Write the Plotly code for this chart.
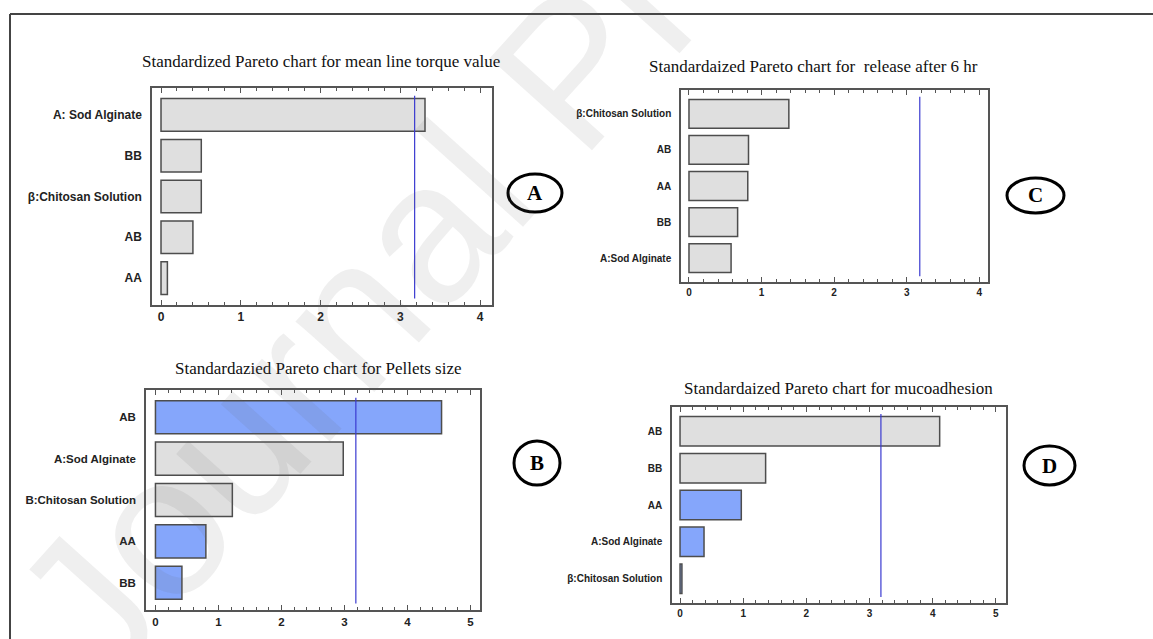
import plotly.graph_objects as go

W, H = 1153, 639

# ---- data -------------------------------------------------------------
# Panel A: mean line torque value
a_terms = ["A: Sod Alginate", "BB", "β:Chitosan Solution", "AB", "AA"]
a_effects = [3.31, 0.505, 0.505, 0.40, 0.08]
a_sign = ["+", "+", "+", "+", "+"]

# Panel B: pellets size
b_terms = ["AB", "A:Sod Alginate", "B:Chitosan Solution", "AA", "BB"]
b_effects = [4.54, 2.98, 1.22, 0.80, 0.42]
b_sign = ["-", "+", "+", "-", "-"]

# Panel C: release after 6 hr
c_terms = ["β:Chitosan Solution", "AB", "AA", "BB", "A:Sod Alginate"]
c_effects = [1.376, 0.82, 0.81, 0.67, 0.58]
c_sign = ["+", "+", "+", "+", "+"]

# Panel D: mucoadhesion
d_terms = ["AB", "BB", "AA", "A:Sod Alginate", "β:Chitosan Solution"]
d_effects = [4.11, 1.355, 0.97, 0.38, 0.03]
d_sign = ["+", "+", "-", "-", "-"]

# critical t value (95 %, 3 df)
t_crit = 3.18

titles = {
    "A": "Standardized Pareto chart for mean line torque value",
    "B": "Standardazied Pareto chart for Pellets size",
    "C": "Standardaized Pareto chart for\u00a0 release after 6 hr",
    "D": "Standardaized Pareto chart for mucoadhesion",
}

# ---- styling ----------------------------------------------------------
GRAY = "#dfdfdf"
BLUE = "#85a6fb"
EDGE = "#4d4d4d"
FRAME = "#555555"
SANS = "Liberation Sans, Arial, sans-serif"
SERIF = "Liberation Serif, Times New Roman, serif"

# pixel boxes of each plot frame: x0, x1, y0(top), y1(bottom), x-range
panels = {
    "A": dict(box=(152, 492, 88, 305), xr=(-0.113, 4.15), tick_max=4, fs=12,
              terms=a_terms, vals=a_effects, sign=a_sign,
              title_xy=(321, 62), badge=(508, 562, 174, 212)),
    "C": dict(box=(681, 988, 90, 282), xr=(-0.11, 4.12), tick_max=4, fs=10,
              terms=c_terms, vals=c_effects, sign=c_sign,
              title_xy=(813, 66), badge=(1007, 1064, 178, 213)),
    "B": dict(box=(146, 480, 390, 610), xr=(-0.15, 5.15), tick_max=5, fs=11.5,
              terms=b_terms, vals=b_effects, sign=b_sign,
              title_xy=(318, 368), badge=(514, 560, 441, 485)),
    "D": dict(box=(672, 1006, 407, 603), xr=(-0.127, 5.16), tick_max=5, fs=10,
              terms=d_terms, vals=d_effects, sign=d_sign,
              title_xy=(838, 388), badge=(1024, 1075, 446, 485)),
}

fig = go.Figure()
layout = {}
annotations = []
shapes = []

for i, (key, p) in enumerate(panels.items(), start=1):
    xa = "x" if i == 1 else f"x{i}"
    ya = "y" if i == 1 else f"y{i}"
    x0, x1, y0, y1 = p["box"]
    colors = [GRAY if s == "+" else BLUE for s in p["sign"]]
    fig.add_trace(go.Bar(
        x=p["vals"], y=p["terms"], orientation="h", width=0.8,
        marker=dict(color=colors, line=dict(color=EDGE, width=1.5)),
        xaxis=xa, yaxis=ya, showlegend=False, hoverinfo="x+y",
    ))
    font = dict(family=SANS, size=p["fs"], color="#222222", weight="bold")
    layout[f"xaxis{'' if i == 1 else i}"] = dict(
        domain=[x0 / W, x1 / W], anchor=ya, range=list(p["xr"]),
        tickvals=list(range(p["tick_max"] + 1)),
        ticks="inside", ticklen=5, tickwidth=1, tickcolor=FRAME,
        minor=dict(dtick=0.2, ticks="inside", ticklen=3, tickcolor=FRAME),
        showline=True, linecolor=FRAME, linewidth=1.5, mirror="allticks",
        showgrid=False, zeroline=False, tickfont=font,
    )
    layout[f"yaxis{'' if i == 1 else i}"] = dict(
        domain=[1 - y1 / H, 1 - y0 / H], anchor=xa,
        type="category", categoryorder="array", categoryarray=p["terms"],
        range=[4.66, -0.66], ticks="", ticklabelstandoff=6,
        showline=True, linecolor=FRAME, linewidth=1.5, mirror=True,
        showgrid=False, zeroline=False, tickfont=font,
    )
    # significance line
    shapes.append(dict(type="line", xref=xa, yref=ya, x0=t_crit, x1=t_crit,
                       y0=-0.47, y1=4.5, line=dict(color="#3a3ad0", width=1.2)))
    # chart title
    tx, ty = p["title_xy"]
    annotations.append(dict(text=titles[key], x=tx / W, y=1 - ty / H,
                            xref="paper", yref="paper", showarrow=False,
                            xanchor="center", yanchor="middle",
                            font=dict(family=SERIF, size=17, color="#111111")))
    # panel letter in an ellipse
    bx0, bx1, by0, by1 = p["badge"]
    shapes.append(dict(type="circle", xref="paper", yref="paper",
                       x0=bx0 / W, x1=bx1 / W, y0=1 - by1 / H, y1=1 - by0 / H,
                       line=dict(color="black", width=3)))
    annotations.append(dict(text=f"<b>{key}</b>", x=(bx0 + bx1) / 2 / W,
                            y=1 - (by0 + by1) / 2 / H, xref="paper", yref="paper",
                            showarrow=False, xanchor="center", yanchor="middle",
                            font=dict(family=SERIF, size=21, color="black")))

# outer frame (top and left edges)
shapes.append(dict(type="line", xref="paper", yref="paper",
                   x0=10 / W, x1=1.0, y0=1 - 14 / H, y1=1 - 14 / H,
                   line=dict(color="#444444", width=2)))
shapes.append(dict(type="line", xref="paper", yref="paper",
                   x0=10 / W, x1=10 / W, y0=0, y1=1 - 14 / H,
                   line=dict(color="#444444", width=2)))

# watermark
annotations.append(dict(text="Journal Pre-proof", x=570 / W, y=1 - 70 / H,
                        xref="paper", yref="paper", showarrow=False,
                        textangle=-48, xanchor="center", yanchor="middle",
                        font=dict(family=SANS, size=200, color="rgba(100,100,100,0.10)")))

fig.update_layout(
    width=W, height=H, margin=dict(l=0, r=0, t=0, b=0),
    paper_bgcolor="white", plot_bgcolor="white",
    shapes=shapes, annotations=annotations, bargap=0.2,
    **layout,
)

fig.write_html("out.html")
